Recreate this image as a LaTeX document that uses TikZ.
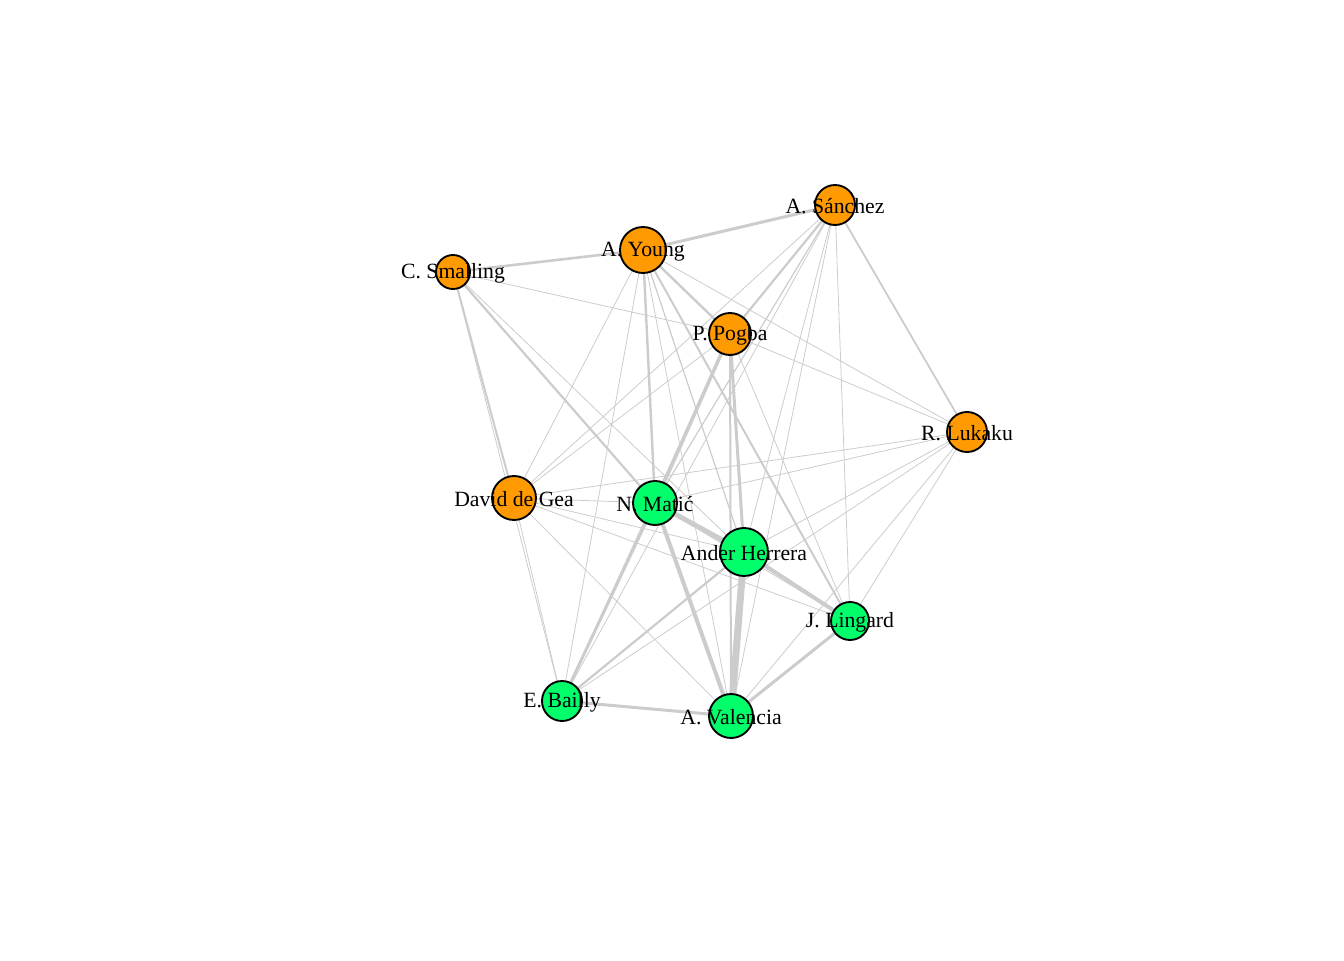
\documentclass[tikz,border=0pt]{standalone}
\usepackage{fontspec}
\setmainfont{Liberation Serif}
\definecolor{edgegray}{HTML}{CCCCCC}
\definecolor{nodeorange}{HTML}{FF9A00}
\definecolor{nodegreen}{HTML}{00FF6A}
\begin{document}
\begin{tikzpicture}[x=0.75pt,y=-0.75pt,
  pl/.style={circle,draw=black,line width=1.4pt,inner sep=0pt},
  po/.style={pl,fill=nodeorange},
  pg/.style={pl,fill=nodegreen},
  lab/.style={font=\fontsize{16.3}{16.3}\selectfont,inner sep=0pt,yshift=-1.5*0.75pt},
  e/.style={draw=edgegray,line width=#1*0.75pt},
  e/.default=0.8]
\useasboundingbox (0,0) rectangle (1344,960);
% coordinates of players
\coordinate (Sa) at (835,205);
\coordinate (Yo) at (643,250);
\coordinate (Sm) at (453,272);
\coordinate (Po) at (730,334);
\coordinate (Lu) at (967,432);
\coordinate (DG) at (514,498);
\coordinate (Ma) at (655,503);
\coordinate (He) at (744,552);
\coordinate (Li) at (850,621);
\coordinate (Ba) at (562,701);
\coordinate (Va) at (731,716);
% edges
\draw[e=3] (Sa) -- (Yo);
\draw[e=2.2] (Sa) -- (Po);
\draw[e=1.8] (Sa) -- (Lu);
\draw[e] (Sa) -- (DG);
\draw[e=1.2] (Sa) -- (Ma);
\draw[e] (Sa) -- (He);
\draw[e] (Sa) -- (Li);
\draw[e] (Sa) -- (Ba);
\draw[e] (Sa) -- (Va);
\draw[e=2.6] (Yo) -- (Sm);
\draw[e=2.4] (Yo) -- (Po);
\draw[e] (Yo) -- (Lu);
\draw[e] (Yo) -- (DG);
\draw[e=2.4] (Yo) -- (Ma);
\draw[e=1.2] (Yo) -- (He);
\draw[e=2] (Yo) -- (Li);
\draw[e] (Yo) -- (Ba);
\draw[e] (Yo) -- (Va);
\draw[e] (Sm) -- (Po);
\draw[e=2] (Sm) -- (DG);
\draw[e=2.2] (Sm) -- (Ma);
\draw[e] (Sm) -- (He);
\draw[e] (Sm) -- (Ba);
\draw[e] (Po) -- (Lu);
\draw[e] (Po) -- (DG);
\draw[e=3.6] (Po) -- (Ma);
\draw[e=3] (Po) -- (He);
\draw[e=2] (Po) -- (Va);
\draw[e] (Po) -- (Li);
\draw[e] (Po) -- (Ba);
\draw[e] (Lu) -- (Ma);
\draw[e] (Lu) -- (He);
\draw[e] (Lu) -- (Li);
\draw[e] (Lu) -- (Va);
\draw[e] (Lu) -- (DG);
\draw[e] (Lu) -- (Ba);
\draw[e] (DG) -- (Ma);
\draw[e] (DG) -- (He);
\draw[e] (DG) -- (Ba);
\draw[e] (DG) -- (Va);
\draw[e] (DG) -- (Li);
\draw[e=5] (Ma) -- (He);
\draw[e=4] (Ma) -- (Va);
\draw[e=3] (Ma) -- (Ba);
\draw[e] (Ma) -- (Li);
\draw[e=4] (He) -- (Li);
\draw[e=7] (He) -- (Va);
\draw[e=2.2] (He) -- (Ba);
\draw[e=3] (Li) -- (Va);
\draw[e=3] (Ba) -- (Va);
% nodes
\node[po,minimum size=40*0.75pt] (nSa) at (Sa) {};
\node[po,minimum size=46*0.75pt] (nYo) at (Yo) {};
\node[po,minimum size=34*0.75pt] (nSm) at (Sm) {};
\node[po,minimum size=42*0.75pt] (nPo) at (Po) {};
\node[po,minimum size=40*0.75pt] (nLu) at (Lu) {};
\node[po,minimum size=44*0.75pt] (nDG) at (DG) {};
\node[pg,minimum size=44*0.75pt] (nMa) at (Ma) {};
\node[pg,minimum size=48*0.75pt] (nHe) at (He) {};
\node[pg,minimum size=38*0.75pt] (nLi) at (Li) {};
\node[pg,minimum size=40*0.75pt] (nBa) at (Ba) {};
\node[pg,minimum size=44*0.75pt] (nVa) at (Va) {};
% labels
\node[lab] (tSa) at (Sa) {A. Sánchez};
\node[lab] (tYo) at (Yo) {A. Young};
\node[lab] (tSm) at (Sm) {C. Smalling};
\node[lab] (tPo) at (Po) {P. Pogba};
\node[lab] (tLu) at (Lu) {R. Lukaku};
\node[lab] (tDG) at (DG) {David de Gea};
\node[lab] (tMa) at (Ma) {N. Matić};
\node[lab] (tHe) at (He) {Ander Herrera};
\node[lab] (tLi) at (Li) {J. Lingard};
\node[lab] (tBa) at (Ba) {E. Bailly};
\node[lab] (tVa) at (Va) {A. Valencia};
\end{tikzpicture}
\end{document}
